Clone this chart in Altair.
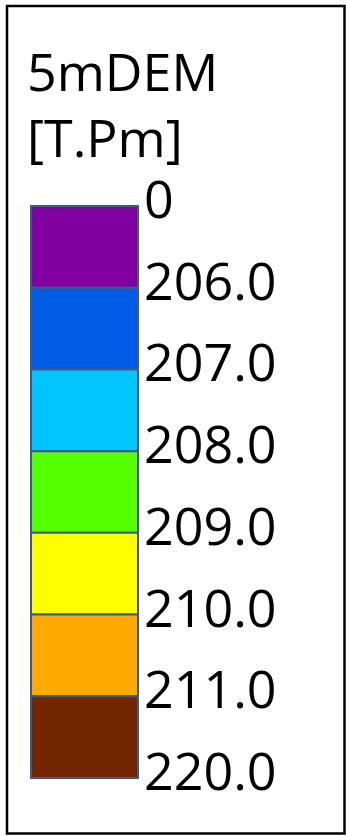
import altair as alt
import pandas as pd

# Legend contents
title_lines = ["5mDEM", "[T.Pm]"]
class_colors = ["#8000A0", "#005CE6", "#00C5FF", "#55FF00", "#FFFF00", "#FFAA00", "#732600"]
break_labels = ["0", "206.0", "207.0", "208.0", "209.0", "210.0", "211.0", "220.0"]

FONT = "Open Sans"
FS = 52

boxes = pd.DataFrame({
    "lo": list(range(len(class_colors))),
    "hi": [i + 1 for i in range(len(class_colors))],
    "color": class_colors,
})
breaks = pd.DataFrame({"pos": list(range(len(break_labels))), "label": break_labels})
titles = pd.DataFrame({"line": list(range(len(title_lines))), "text": title_lines})
frame = pd.DataFrame({"k": [0]})

yscale = alt.Scale(domain=[0, len(class_colors)], range=[206, 778])

border = alt.Chart(frame).mark_rect(
    fill=None, stroke="black", strokeWidth=2.5
).encode(
    x=alt.value(7), x2=alt.value(344.5), y=alt.value(6), y2=alt.value(833.5)
)

swatches = alt.Chart(boxes).mark_rect(
    stroke="#3D5A8C", strokeWidth=2
).encode(
    x=alt.value(31), x2=alt.value(138),
    y=alt.Y("lo:Q", scale=yscale, axis=None),
    y2="hi:Q",
    fill=alt.Fill("color:N", scale=None, legend=None),
)

labels = alt.Chart(breaks).mark_text(
    font=FONT, fontSize=FS, align="left", baseline="alphabetic", dy=12, color="black"
).encode(
    x=alt.value(144),
    y=alt.Y("pos:Q", scale=yscale, axis=None),
    text="label:N",
)

heading = alt.Chart(titles).mark_text(
    font=FONT, fontSize=FS, align="left", baseline="alphabetic", color="black"
).encode(
    x=alt.value(27),
    y=alt.Y("line:Q", scale=alt.Scale(domain=[0, 1], range=[91, 157]), axis=None),
    text="text:N",
)

chart = alt.layer(border, swatches, labels, heading).resolve_scale(y="independent").properties(
    width=346, height=836,
    autosize=alt.AutoSizeParams(type="none"),
    padding=0,
    background="white",
).configure_view(stroke=None)

chart.save("out.html", embed_options={"renderer": "svg", "actions": False})
